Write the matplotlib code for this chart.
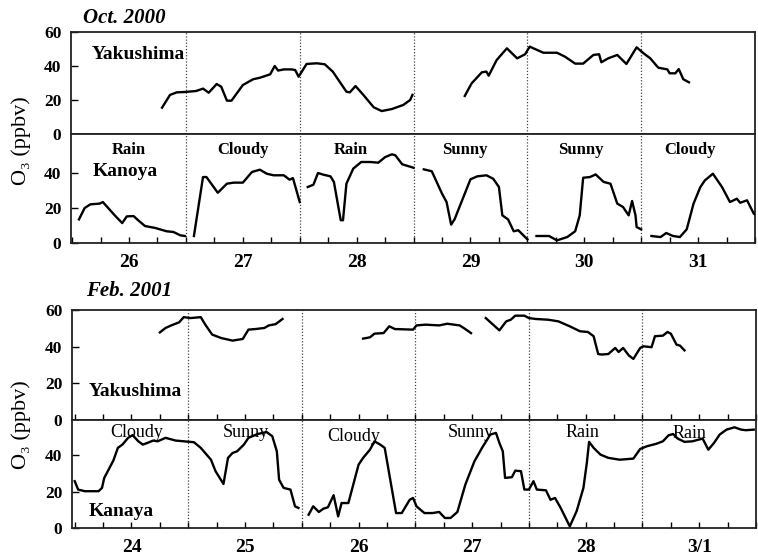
import matplotlib
matplotlib.use("Agg")
import matplotlib.pyplot as plt
import numpy as np

nan = np.nan

# ---- Oct. 2000 ----
oct_yaku_day = [26.29, 26.36, 26.42, 26.49, 26.59, 26.65, 26.70, 26.77, 26.81, 26.86,
                26.90, 27.00, 27.09, 27.15, 27.24, 27.28, 27.31, 27.36, 27.43, 27.46,
                27.49, 27.56, 27.65, 27.72, 27.79, 27.85, 27.91, 27.94, 27.99, 28.06,
                28.15, 28.22, 28.31, 28.41, 28.47, 28.49, nan,
                28.95, 29.01, 29.10, 29.14, 29.16, 29.23, 29.32, 29.41, 29.48, 29.52,
                29.64, 29.76, 29.83, 29.92, 29.99, 30.08, 30.13, 30.15, 30.21, 30.29,
                30.37, 30.46, 30.52, 30.58, 30.65, 30.73, 30.75, 30.80, 30.83, 30.87,
                30.92]
oct_yaku_o3 = [15.5, 23, 24.5, 24.7, 25.3, 26.7, 24.3, 29.4, 27.8, 19.6,
               19.6, 28.8, 32.2, 33.1, 35.1, 40, 37.3, 38, 38, 37.6,
               33.7, 41.2, 41.6, 41, 36.7, 30.8, 24.9, 24.5, 28.2, 22.9,
               15.7, 13.5, 14.7, 17.1, 20, 23, nan,
               22.4, 29.8, 36.3, 36.7, 34.3, 43.5, 50.4, 44.5, 46.9, 51.4,
               47.8, 47.8, 45.5, 41.4, 41.4, 46.5, 46.9, 42.2, 44.5, 46.5,
               41.2, 51, 47.5, 44.5, 39, 38, 35.7, 35.7, 38.2, 32.2,
               30.4]

oct_kano_day = [25.56, 25.61, 25.66, 25.74, 25.77, 25.88, 25.94, 25.98, 26.04, 26.08,
                26.14, 26.23, 26.33, 26.39, 26.45, 26.49, nan,
                26.57, 26.65, 26.68, 26.78, 26.86, 26.92, 27.00, 27.08, 27.15, 27.21,
                27.27, 27.36, 27.41, 27.44, 27.50, nan,
                27.57, 27.62, 27.66, 27.71, 27.77, 27.80, 27.86, 27.88, 27.91, 27.97,
                28.04, 28.12, 28.19, 28.25, 28.31, 28.34, 28.40, 28.50, nan,
                28.59, 28.66, 28.75, 28.79, 28.83, 28.86, 29.00, 29.06, 29.14, 29.20,
                29.25, 29.28, 29.33, 29.38, 29.42, 29.50, nan,
                29.58, 29.69, 29.76, 29.85, 29.92, 29.96, 29.99, 30.05, 30.10, 30.17,
                30.23, 30.29, 30.34, 30.39, 30.42, 30.45, 30.46, 30.50, nan,
                30.59, 30.67, 30.72, 30.78, 30.84, 30.90, 30.96, 31.02, 31.06, 31.13,
                31.21, 31.28, 31.34, 31.37, 31.43, 31.49, 31.52]
oct_kano_o3 = [13.5, 20, 22.1, 22.5, 23.4, 15.4, 11.4, 15.2, 15.4, 13,
               9.7, 8.6, 6.7, 6.3, 4.4, 4, nan,
               4, 37.7, 37.7, 28.7, 33.9, 34.5, 34.5, 40.6, 41.9, 39.6,
               38.7, 38.7, 36.2, 37.1, 23.4, nan,
               32, 33.3, 40, 39, 38.1, 34.9, 13, 13, 33.9, 42.5,
               46.3, 46.3, 45.9, 49.1, 50.7, 50.1, 45, 43, nan,
               42.1, 41, 28.2, 23.4, 10.5, 13.5, 36.4, 38.1, 38.7, 36.7,
               32, 15.8, 13.5, 6.7, 7.3, 2.1, nan,
               4, 4, 1.5, 3.4, 6.7, 15.8, 37.3, 37.7, 39.2, 34.9,
               33.9, 22.5, 20.6, 15.8, 24, 15.8, 9.1, 7.8, nan,
               4, 3.4, 5.7, 4, 3.4, 7.8, 22.5, 32, 35.8, 39.6,
               32, 23.4, 25.3, 23, 24.4, 16.7, 15.8]

oct_days = [26, 27, 28, 29, 30, 31]
oct_labels = ["26", "27", "28", "29", "30", "31"]
oct_weather = ["Rain", "Cloudy", "Rain", "Sunny", "Sunny", "Cloudy"]

# ---- Feb. 2001 ----
feb_yaku_day = [24.25, 24.30, 24.35, 24.42, 24.46, 24.52, 24.61, 24.65, 24.71, 24.79,
                24.89, 24.98, 25.03, 25.09, 25.17, 25.21, 25.27, 25.33, nan,
                26.04, 26.10, 26.14, 26.22, 26.27, 26.32, 26.48, 26.51, 26.59, 26.71,
                26.78, 26.89, 26.94, 26.99, nan,
                27.12, 27.24, 27.30, 27.34, 27.38, 27.46, 27.50, 27.56, 27.67, 27.76,
                27.86, 27.95, 28.02, 28.07, 28.11, 28.14, 28.20, 28.26, 28.29, 28.33,
                28.38, 28.42, 28.48, 28.51, 28.58, 28.61, 28.68, 28.72, 28.75, 28.80,
                28.83, 28.87]
feb_yaku_o3 = [47.8, 50.2, 51.6, 53.3, 56.1, 55.6, 56.1, 52, 46.6, 44.7,
               43.3, 44.2, 49.3, 49.6, 50.2, 51.6, 52.3, 55.1, nan,
               44.4, 45.1, 47.1, 47.4, 51.1, 49.6, 49.3, 51.6, 52, 51.6,
               52.5, 51.6, 49.6, 47.4, nan,
               55.6, 48.9, 53.8, 54.7, 56.9, 56.9, 55.6, 55.1, 54.7, 53.8,
               51.1, 48.4, 48, 45.7, 36, 35.7, 36, 39.3, 37.1, 39.3,
               35.2, 33.3, 39.3, 40.2, 39.7, 45.7, 46, 48, 47.1, 41.1,
               40.6, 38]

feb_kana_day = [23.50, 23.53, 23.59, 23.71, 23.74, 23.76, 23.84, 23.88, 23.92, 23.97,
                24.01, 24.06, 24.10, 24.14, 24.19, 24.23, 24.30, 24.39, 24.55, 24.61,
                24.70, 24.74, 24.81, 24.85, 24.89, 24.93, 24.99, 25.03, 25.11, 25.19,
                25.24, 25.28, 25.30, 25.34, 25.40, 25.44, 25.47, nan,
                25.56, 25.60, 25.65, 25.69, 25.73, 25.78, 25.82, 25.85, 25.91, 26.00,
                26.04, 26.10, 26.14, 26.19, 26.23, 26.33, 26.38, 26.45, 26.48, 26.51,
                26.58, 26.65, 26.71, 26.76, 26.81, 26.87, 26.94, 27.02, 27.09, 27.16,
                27.21, 27.24, 27.27, 27.29, 27.35, 27.38, 27.43, 27.46, 27.50, 27.54,
                27.57, 27.65, 27.69, 27.73, 27.78, 27.86, 27.92, 27.98, 28.01, 28.03,
                28.07, 28.13, 28.20, 28.30, 28.42, 28.48, 28.54, 28.62, 28.68, 28.73,
                28.77, 28.81, 28.87, 28.94, 29.03, 29.08, 29.13, 29.18, 29.24, 29.31,
                29.37, 29.41, 29.48]
feb_kana_o3 = [25.7, 21.1, 20.2, 20.2, 22, 27.5, 37, 44, 45.8, 49.5,
               51, 47.6, 45.8, 46.7, 48, 47.6, 49.5, 48, 47.1, 44,
               37.5, 31.2, 24.2, 38.5, 41.2, 42.1, 45.8, 49.5, 51.6, 52.7,
               50.4, 42.1, 26.5, 22, 21.1, 11.9, 11, nan,
               7.3, 11.9, 8.8, 10.6, 11.4, 18, 6.4, 13.7, 13.7, 34.8,
               38.5, 43, 47.6, 45.8, 44, 8.2, 8.2, 15.5, 16.5, 11.9,
               8.2, 8.2, 8.8, 5.5, 5.5, 8.8, 23.8, 36.6, 44.3, 51.3,
               52.2, 46.7, 42.1, 27.5, 27.9, 31.5, 31.2, 21.1, 21.1, 25.7,
               21.1, 20.7, 15.5, 16.5, 11, 0.9, 9.2, 22, 35.7, 47.3,
               44, 40.3, 38.5, 37.5, 38.1, 43.4, 44.9, 46.2, 47.6, 50.9,
               51.6, 49.1, 47.3, 47.6, 49.1, 43, 46.7, 51.3, 54, 55.3,
               54, 53.7, 54]

feb_days = [24, 25, 26, 27, 28, 29]
feb_labels = ["24", "25", "26", "27", "28", "3/1"]
feb_weather = ["Cloudy", "Sunny", "Cloudy", "Sunny", "Rain", "Rain"]

plt.rcParams["font.family"] = ["Liberation Serif", "DejaVu Serif"]
plt.rcParams["font.weight"] = "bold"

W, H = 758, 558
fig = plt.figure(figsize=(W / 100, H / 100), dpi=100)


def box(left, top, right, bottom):
    return [left / W, 1 - bottom / H, (right - left) / W, (bottom - top) / H]


def style(ax, xlim, ylim, yticks, days, labels, bottom_ticks, show_labels):
    ax.set_xlim(*xlim)
    ax.set_ylim(*ylim)
    for s in ax.spines.values():
        s.set_linewidth(1.3)
        s.set_color("#222222")
    ax.set_yticks(yticks)
    ax.set_yticklabels([str(v) for v in yticks], fontsize=12.5, fontweight="bold")
    ax.tick_params(axis="y", direction="in", length=5, width=1, pad=7)
    ax.set_xticks(days)
    ax.set_xticks(np.arange(days[0] - 0.5, days[-1] + 0.51, 0.25), minor=True)
    if show_labels:
        ax.set_xticklabels(labels, fontsize=14, fontweight="bold")
    else:
        ax.set_xticklabels([])
    ln = 4 if bottom_ticks else 0
    ax.tick_params(axis="x", which="both", direction="in", length=ln, width=1, pad=8)
    for d in days[:-1]:
        ax.axvline(d + 0.5, color="#444444", ls=(0, (1, 1.5)), lw=0.9, zorder=1)


# Oct. 2000
oxlim = (25.49, 31.5)
ax1 = fig.add_axes(box(71, 32, 755, 134))
ax2 = fig.add_axes(box(71, 134, 755, 243))
ax1.plot(oct_yaku_day, oct_yaku_o3, color="black", lw=1.7, zorder=3)
ax2.plot(oct_kano_day, oct_kano_o3, color="black", lw=1.7, zorder=3)
style(ax1, oxlim, (0, 60), [0, 20, 40, 60], oct_days, oct_labels, False, False)
style(ax2, oxlim, (0, 62.3), [0, 20, 40], oct_days, oct_labels, True, True)
ax1.text(25.67, 46.5, "Yakushima", fontsize=14, fontweight="bold", va="center", ha="left")
ax2.text(25.68, 40.6, "Kanoya", fontsize=14, fontweight="bold", va="center", ha="left")
oct_wx_x = [26.0, 27.0, 27.95, 28.95, 29.97, 30.93]
for x, w in zip(oct_wx_x, oct_weather):
    ax2.text(x, 53, w, fontsize=12, fontweight="bold", ha="center", va="center")

fig.text(83 / W, 1 - 23 / H, "Oct. 2000", fontsize=15, fontweight="bold",
         fontstyle="italic", ha="left", va="baseline")
fig.text(21 / W, 1 - 141 / H, "O\u2083 (ppbv)", fontsize=16, fontweight="normal",
         rotation=90, ha="center", va="center")

# Feb. 2001
fxlim = (23.476, 29.47)
ax3 = fig.add_axes(box(72, 310, 756, 420))
ax4 = fig.add_axes(box(72, 420, 756, 528))
ax3.plot(feb_yaku_day, feb_yaku_o3, color="black", lw=1.7, zorder=3)
ax4.plot(feb_kana_day, feb_kana_o3, color="black", lw=1.7, zorder=3)
style(ax3, fxlim, (0, 60), [0, 20, 40, 60], feb_days, feb_labels, True, False)
style(ax4, fxlim, (0, 59.3), [0, 20, 40], feb_days, feb_labels, True, True)
ax3.text(23.62, 15.8, "Yakushima", fontsize=14, fontweight="bold", va="center", ha="left")
ax4.text(23.62, 9.3, "Kanaya", fontsize=14, fontweight="bold", va="center", ha="left")
feb_wx_x = [24.05, 25.01, 25.96, 26.99, 27.97, 28.91]
feb_wx_y = [52.2, 52.2, 50, 52.2, 52.2, 52]
for x, y, w in zip(feb_wx_x, feb_wx_y, feb_weather):
    ax4.text(x, y, w, fontsize=13, fontweight="normal", ha="center", va="center", zorder=4)

fig.text(86 / W, 1 - 296 / H, "Feb. 2001", fontsize=15, fontweight="bold",
         fontstyle="italic", ha="left", va="baseline")
fig.text(21 / W, 1 - 425 / H, "O\u2083 (ppbv)", fontsize=16, fontweight="normal",
         rotation=90, ha="center", va="center")

fig.savefig("out.png", dpi=100)
